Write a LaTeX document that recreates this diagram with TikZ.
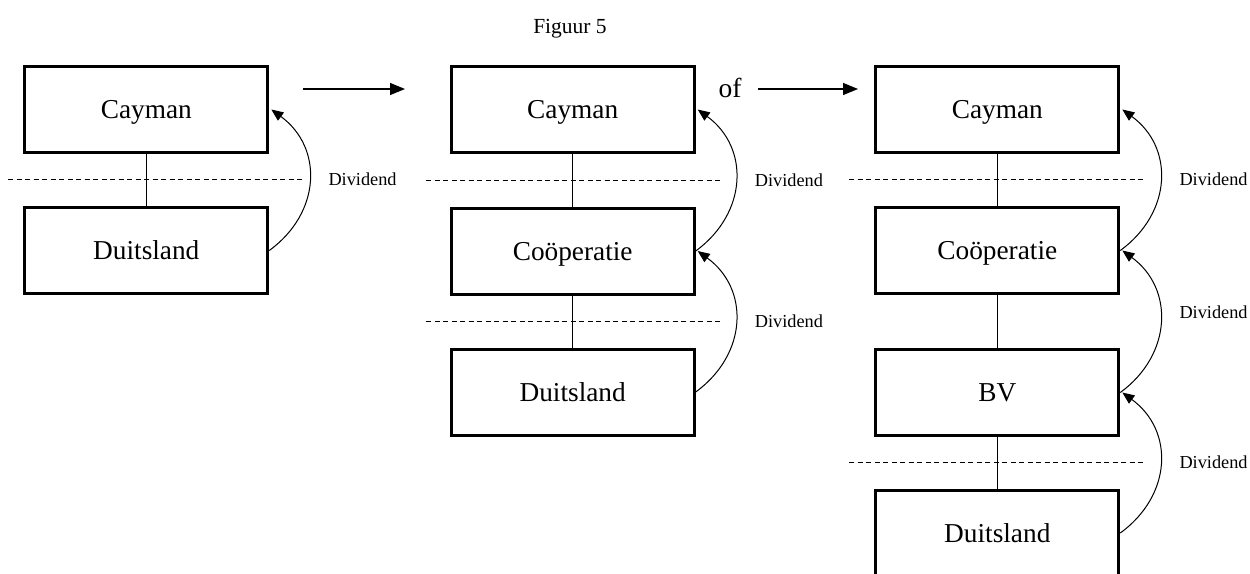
\documentclass[tikz,border=0pt]{standalone}
\usepackage{fontspec}
\setmainfont{Liberation Serif}
\usetikzlibrary{arrows.meta}
\begin{document}
\begin{tikzpicture}[x=1pt,y=-1pt,
  box/.style={draw, line width=3pt, minimum width=243pt, minimum height=86pt, inner sep=0pt,
    text height=20pt, text depth=2pt,
    font=\fontsize{27.3}{32}\selectfont},
  tie/.style={line width=1pt},
  sep/.style={line width=1pt, dash pattern=on 5pt off 3.5pt},
  divlbl/.style={anchor=west, inner sep=0pt, font=\fontsize{18.3}{22}\selectfont},
  flow/.style={line width=1pt, -{Triangle[length=12pt,width=10pt]}},
  step arrow/.style={line width=1.2pt, -{Triangle[length=15pt,width=12pt]}}
]
\useasboundingbox (0,0) rectangle (1250,573);

% title
\node[font=\fontsize{21.5}{26}\selectfont, inner sep=0pt, text height=16pt, text depth=1.8pt] (title) at (570,26) {Figuur 5};

% column 1
\node[box] (a1) at (146.3,109.5) {Cayman};
\node[box] (a2) at (146.3,250.5) {Duitsland};
\draw[tie] (a1.south) -- (a2.north);
\draw[sep] (8,179.5) -- (305,179.5);
\draw[flow] (a2.east) .. controls +(52,-38) and +(52,38) .. ([xshift=2pt]a1.east);
\node[divlbl] (la1) at ([xshift=59pt]a1.east |- 0,179.5) {Dividend};

% arrow 1
\coordinate (s1) at (303,89);
\coordinate (e1) at (405,89);
\draw[step arrow] (s1) -- (e1);

% column 2
\node[box] (b1) at (572.7,109.5) {Cayman};
\node[box] (b2) at (572.7,251) {Coöperatie};
\node[box] (b3) at (572.7,392) {Duitsland};
\draw[tie] (b1.south) -- (b2.north);
\draw[tie] (b2.south) -- (b3.north);
\draw[sep] (426,180) -- (722,180);
\draw[sep] (426,321.5) -- (722,321.5);
\draw[flow] (b2.east) .. controls +(52,-38) and +(52,38) .. ([xshift=2pt]b1.east);
\draw[flow] (b3.east) .. controls +(52,-38) and +(52,38) .. ([xshift=2pt]b2.east);
\node[divlbl] (lb1) at ([xshift=59pt]b1.east |- 0,180) {Dividend};
\node[divlbl] (lb2) at ([xshift=59pt]b1.east |- 0,321.5) {Dividend};

% of + arrow 2
\node[font=\fontsize{27.5}{32}\selectfont, inner sep=0pt] (of) at (730,88) {of};
\coordinate (s2) at (758,89);
\coordinate (e2) at (858,89);
\draw[step arrow] (s2) -- (e2);

% column 3
\node[box] (c1) at (997.3,109.5) {Cayman};
\node[box] (c2) at (997.3,250.5) {Coöperatie};
\node[box] (c3) at (997.3,392.5) {BV};
\node[box] (c4) at (997.3,533) {Duitsland};
\draw[tie] (c1.south) -- (c2.north);
\draw[tie] (c2.south) -- (c3.north);
\draw[tie] (c3.south) -- (c4.north);
\draw[sep] (849,179.5) -- (1145,179.5);
\draw[sep] (849,462.5) -- (1145,462.5);
\draw[flow] (c2.east) .. controls +(52,-38) and +(52,38) .. ([xshift=2pt]c1.east);
\draw[flow] (c3.east) .. controls +(52,-38) and +(52,38) .. ([xshift=2pt]c2.east);
\draw[flow] (c4.east) .. controls +(52,-38) and +(52,38) .. ([xshift=2pt]c3.east);
\node[divlbl] (lc1) at ([xshift=59pt]c1.east |- 0,179.5) {Dividend};
\node[divlbl] (lc2) at ([xshift=59pt]c1.east |- 0,312.5) {Dividend};
\node[divlbl] (lc3) at ([xshift=59pt]c1.east |- 0,462.5) {Dividend};
\end{tikzpicture}
\end{document}
